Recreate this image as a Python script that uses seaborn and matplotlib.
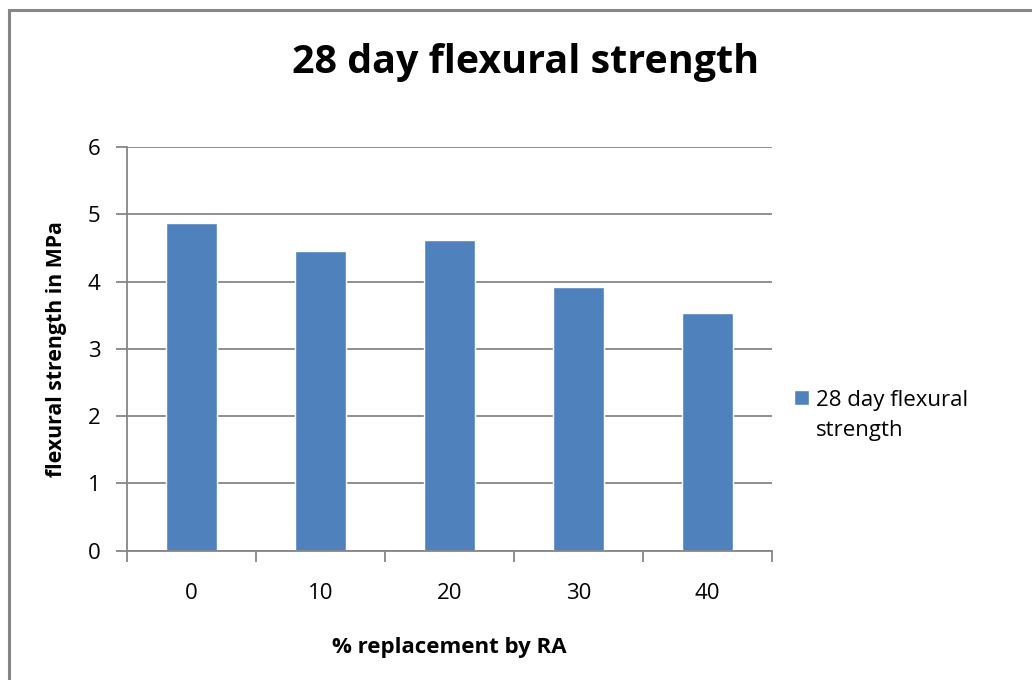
import matplotlib
matplotlib.use("Agg")
import matplotlib.pyplot as plt
import seaborn as sns
import pandas as pd
from matplotlib.patches import Rectangle

# data
replacement = ["0", "10", "20", "30", "40"]
strength = [4.87, 4.45, 4.62, 3.92, 3.53]
series_name = "28 day flexural strength"

df = pd.DataFrame({"replacement": replacement, "strength": strength})

sns.set_theme(style="white")
plt.rcParams["font.family"] = ["Open Sans", "DejaVu Sans"]
plt.rcParams["text.color"] = "black"
plt.rcParams["axes.labelcolor"] = "black"

fig = plt.figure(figsize=(10.32, 6.8), dpi=100)
ax = fig.add_axes([0.123, 0.19, 0.625, 0.594])

sns.barplot(data=df, x="replacement", y="strength", color="#4f81bd",
            width=0.4, saturation=1, ax=ax, label=series_name)

ax.set_ylim(0, 6)
ax.set_xlim(-0.5, 4.5)
ax.set_yticks(range(0, 7))
ax.yaxis.grid(True, color="#868686", linewidth=1.3)
ax.set_axisbelow(True)

for side in ["top", "right"]:
    ax.spines[side].set_visible(False)
for side in ["left", "bottom"]:
    ax.spines[side].set_color("#868686")
    ax.spines[side].set_linewidth(1.3)

# ticks between categories on x, outward on y
ax.set_xticks([i - 0.5 for i in range(6)], minor=True)
ax.tick_params(axis="x", which="minor", bottom=True, length=8, color="#868686", width=1.3)
ax.tick_params(axis="x", which="major", bottom=False, labelsize=16, pad=17, colors="black")
ax.tick_params(axis="y", left=True, length=8, color="#868686", width=1.3,
               labelsize=16, pad=11, labelcolor="black")

ax.set_xlabel("% replacement by RA", fontsize=16, fontweight="bold", labelpad=24)
ax.set_ylabel("flexural strength in MPa", fontsize=15.3, fontweight="bold", labelpad=15)

fig.text(0.509, 0.908, series_name, fontsize=28.4, fontweight="bold",
         ha="center", va="center")

handles, _ = ax.get_legend_handles_labels()
leg = ax.legend(handles[:1], ["28 day flexural\nstrength"], loc="center left",
                bbox_to_anchor=(1.02, 0.335), frameon=False, fontsize=16,
                handlelength=0.7, handleheight=0.7, handletextpad=0.3,
                borderaxespad=0)
for t in leg.get_texts():
    t.set_linespacing(1.6)
# put the square next to the first line
for row in leg._legend_handle_box.get_children()[0].get_children():
    row.align = "top"

# outer chart border (only left and top edges are visible)
fig.patches.append(Rectangle((0.0087, -0.05), 1.2, 1.035, transform=fig.transFigure,
                             fill=False, edgecolor="#868686", linewidth=2.2))

fig.savefig("out.png", dpi=100)
